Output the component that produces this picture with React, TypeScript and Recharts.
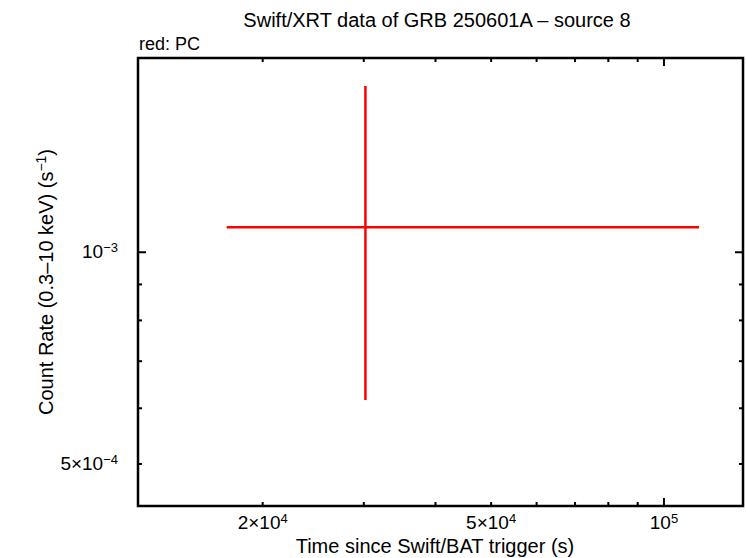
import React from "react";
import { ComposedChart, Scatter, ErrorBar, XAxis, YAxis } from "recharts";

// ---- data ----
const times = [30200];
const timeStart = [17310];
const timeEnd = [115100];
const rates = [1.085e-3];
const rateLow = [6.166e-4];
const rateHigh = [1.7235e-3];

const xTicks = [20000, 30000, 40000, 50000, 60000, 70000, 80000, 90000, 100000];
const xMajor = [100000];
const xLabels: Record<number, [string, string]> = {
  20000: ["2×10", "4"],
  50000: ["5×10", "4"],
  100000: ["10", "5"],
};
const yTicks = [5e-4, 6e-4, 7e-4, 8e-4, 9e-4, 1e-3];
const yMajor = [1e-3];
const yLabels: Record<number, [string, string]> = {
  0.0005: ["5×10", "−4"],
  0.001: ["10", "−3"],
};
const xDomain = [12130, 137300];
const yDomain = [4.357e-4, 1.889e-3];

const data = times.map((t, i) => ({
  t,
  rate: rates[i],
  tErr: [t - timeStart[i], timeEnd[i] - t],
  rErr: [rates[i] - rateLow[i], rateHigh[i] - rates[i]],
}));

// ---- layout ----
const W = 746;
const H = 558;
const LEFT = 138;
const RIGHT = 743;
const TOP = 58;
const BOTTOM = 506;
const FONT = "'Liberation Sans', Arial, Helvetica, sans-serif";
const MAJOR = 8;
const MINOR = 4;
const TICK_FS = 19;
const SUP_FS = 13;

const near = (v: number, arr: number[]) => arr.some((a) => Math.abs(a - v) / a < 1e-6);
const findLabel = (v: number, rec: Record<number, [string, string]>) => {
  const k = Object.keys(rec).find((kk) => Math.abs(Number(kk) - v) / v < 1e-6);
  return k ? rec[Number(k)] : null;
};

const BottomTick = (props: any) => {
  const { x, payload } = props;
  const v = payload.value;
  const len = near(v, xMajor) ? MAJOR : MINOR;
  const lab = findLabel(v, xLabels);
  return (
    <g>
      <line x1={x} x2={x} y1={BOTTOM} y2={BOTTOM - len} stroke="#000" strokeWidth={2} />
      {lab && (
        <text x={x} y={529} textAnchor="middle" fontFamily={FONT} fontSize={TICK_FS} fill="#000">
          {lab[0]}
          <tspan fontSize={SUP_FS} dy={-6}>{lab[1]}</tspan>
        </text>
      )}
    </g>
  );
};

const TopTick = (props: any) => {
  const { x, payload } = props;
  const len = near(payload.value, xMajor) ? MAJOR : MINOR;
  return <line x1={x} x2={x} y1={TOP} y2={TOP + len} stroke="#000" strokeWidth={2} />;
};

const LeftTick = (props: any) => {
  const { y, payload } = props;
  const v = payload.value;
  const len = near(v, yMajor) ? MAJOR : MINOR;
  const lab = findLabel(v, yLabels);
  return (
    <g>
      <line x1={LEFT} x2={LEFT + len} y1={y} y2={y} stroke="#000" strokeWidth={2} />
      {lab && (
        <text x={118} y={y + 6} textAnchor="end" fontFamily={FONT} fontSize={TICK_FS} fill="#000">
          {lab[0]}
          <tspan fontSize={SUP_FS} dy={-6}>{lab[1]}</tspan>
        </text>
      )}
    </g>
  );
};

const RightTick = (props: any) => {
  const { y, payload } = props;
  const len = near(payload.value, yMajor) ? MAJOR : MINOR;
  return <line x1={RIGHT} x2={RIGHT - len} y1={y} y2={y} stroke="#000" strokeWidth={2} />;
};

export default function App() {
  return (
    <div style={{ position: "absolute", left: 0, top: 0, width: W, height: H, background: "#fff" }}>
      <ComposedChart
        width={W}
        height={H}
        data={data}
        margin={{ top: TOP - 1, right: W - RIGHT - 1, bottom: H - BOTTOM - 1, left: LEFT - 1 }}
      >
        <XAxis
          xAxisId="b"
          dataKey="t"
          type="number"
          scale="log"
          domain={xDomain}
          allowDataOverflow
          ticks={xTicks}
          interval={0}
          height={1}
          tickLine={false}
          axisLine={false}
          tick={<BottomTick />}
        />
        <XAxis
          xAxisId="t"
          orientation="top"
          dataKey="t"
          type="number"
          scale="log"
          domain={xDomain}
          allowDataOverflow
          ticks={xTicks}
          interval={0}
          height={1}
          tickLine={false}
          axisLine={false}
          tick={<TopTick />}
        />
        <YAxis
          yAxisId="l"
          dataKey="rate"
          type="number"
          scale="log"
          domain={yDomain}
          allowDataOverflow
          ticks={yTicks}
          interval={0}
          width={1}
          tickLine={false}
          axisLine={false}
          tick={<LeftTick />}
        />
        <YAxis
          yAxisId="r"
          orientation="right"
          dataKey="rate"
          type="number"
          scale="log"
          domain={yDomain}
          allowDataOverflow
          ticks={yTicks}
          interval={0}
          width={1}
          tickLine={false}
          axisLine={false}
          tick={<RightTick />}
        />
        <Scatter
          xAxisId="b"
          yAxisId="l"
          dataKey="rate"
          isAnimationActive={false}
          shape={() => <g />}
        >
          <ErrorBar dataKey="tErr" direction="x" width={0} stroke="#ff0000" strokeWidth={2.5} isAnimationActive={false} />
          <ErrorBar dataKey="rErr" direction="y" width={0} stroke="#ff0000" strokeWidth={2.5} isAnimationActive={false} />
        </Scatter>
      </ComposedChart>
      <svg
        width={W}
        height={H}
        style={{ position: "absolute", left: 0, top: 0, pointerEvents: "none" }}
      >
        <rect
          x={LEFT}
          y={TOP}
          width={RIGHT - LEFT}
          height={BOTTOM - TOP}
          fill="none"
          stroke="#000"
          strokeWidth={2.5}
        />
        <text x={437} y={27} textAnchor="middle" fontFamily={FONT} fontSize={20} fill="#000">
          Swift/XRT data of GRB 250601A – source 8
        </text>
        <text x={139} y={50} fontFamily={FONT} fontSize={18} fill="#000">
          red: PC
        </text>
        <text x={435} y={553} textAnchor="middle" fontFamily={FONT} fontSize={20} fill="#000">
          Time since Swift/BAT trigger (s)
        </text>
        <text
          x={0}
          y={0}
          transform="translate(53 282) rotate(-90)"
          textAnchor="middle"
          fontFamily={FONT}
          fontSize={20}
          fill="#000"
        >
          Count Rate (0.3–10 keV) (s
          <tspan fontSize={14} dy={-7}>−1</tspan>
          <tspan dy={7}>)</tspan>
        </text>
      </svg>
    </div>
  );
}
